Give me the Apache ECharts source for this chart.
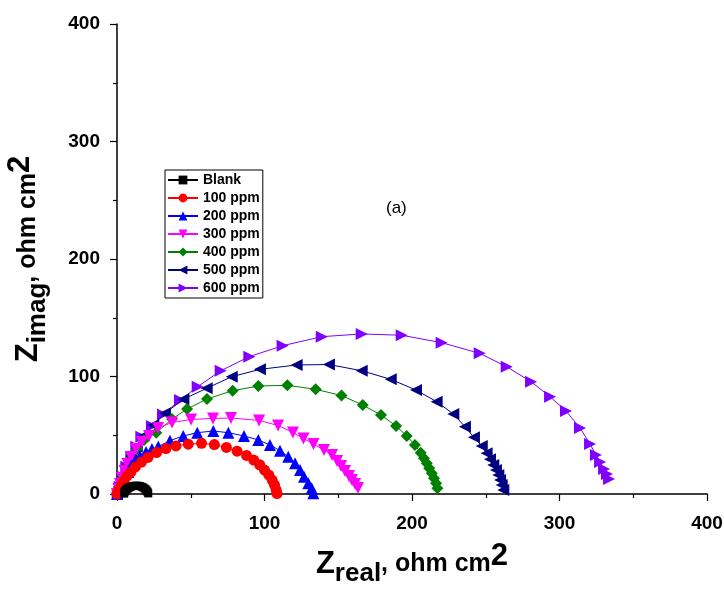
<!DOCTYPE html>
<html>
<head>
<meta charset="utf-8">
<script src="https://cdn.jsdelivr.net/npm/echarts@6/dist/echarts.min.js"></script>
<style>
  html, body { margin: 0; padding: 0; background: #fff; }
  #nyquist { width: 724px; height: 592px; }
</style>
</head>
<body>
<div id="nyquist"></div>
<script>
// Nyquist data, [Zreal, Zimag] in ohm cm2
var seriesNames = ['Blank', '100 ppm', '200 ppm', '300 ppm', '400 ppm', '500 ppm', '600 ppm'];
var axisTicks = [0, 100, 200, 300, 400];

var blank = [[4.8,0.3],[5.0,1.2],[5.3,2.1],[5.8,3.0],[6.4,3.8],[7.1,4.6],[7.9,5.3],[8.8,5.9],[9.8,6.4],[10.9,6.8],
  [12.0,7.0],[13.2,7.1],[14.4,7.0],[15.6,6.7],[16.7,6.2],[17.7,5.6],[18.6,4.8],[19.4,4.0],[20.0,3.1],[20.5,2.2],[20.9,1.3],[21.2,0.5]];
var ppm100 = [[0,0],[1.4,3.4],[3.1,7.7],[4.7,11.1],[6.8,15.3],[9.5,18.7],[12.5,23.0],[16.6,27.2],[21.0,31.1],[26.8,35.3],
  [33.2,38.7],[40.0,40.9],[48.3,42.4],[57.3,43.1],[66.0,42.1],[74.2,39.6],[81.4,36.4],[87.8,32.8],[92.7,28.9],[96.7,24.9],
  [100.0,20.4],[102.9,16.2],[105.2,11.9],[106.8,7.7],[107.9,3.4],[108.5,0.4]];
var ppm200 = [[0,0],[1.4,4.3],[2.9,8.5],[4.7,13.6],[7.5,18.7],[9.5,23.8],[12.2,28.1],[15.6,32.3],[19.7,35.7],[23.7,38.3],
  [28.0,40.4],[35.9,45.4],[44.9,49.4],[54.4,52.2],[65.3,53.6],[75.5,52.2],[86.1,49.4],[95.8,46.0],[103.7,41.7],[110.5,36.9],
  [116.1,31.7],[120.7,26.1],[124.1,20.4],[126.8,14.7],[129.7,9.1],[132.0,4.9],[133.1,0.6]];
var ppm300 = [[0,0],[1.0,4.3],[2.0,8.5],[3.4,13.6],[5.1,19.6],[7.1,25.5],[9.5,31.5],[12.9,38.3],[16.9,44.3],[21.7,49.4],
  [27.8,56.2],[37.3,60.9],[50.2,63.4],[65.1,64.3],[77.3,64.7],[96.3,62.6],[109.2,58.3],[119.3,52.3],[126.4,47.2],[133.2,42.6],
  [140.3,37.4],[145.8,33.2],[149.2,28.1],[151.9,23.8],[154.6,19.6],[157.3,15.3],[159.3,11.9],[161.4,8.5],[163.4,5.1]];
var ppm400 = [[0,0],[1.4,6.0],[3.4,13.6],[6.1,22.1],[9.5,29.8],[13.6,38.3],[18.3,46.0],[26.6,52.2],[37.3,63.8],[47.5,72.3],
  [61.0,80.9],[78.4,87.9],[95.8,91.9],[115.5,92.5],[134.7,89.1],[152.2,83.8],[166.6,75.7],[179.0,67.2],[189.2,57.9],[196.4,49.4],
  [202.0,41.7],[205.9,35.1],[208.1,30.4],[210.0,26.1],[211.7,21.9],[213.4,17.6],[214.9,13.4],[216.3,9.1],[217.2,4.9]];
var ppm500 = [[0,0],[1.4,6.0],[3.4,14.5],[6.1,23.8],[9.5,32.3],[13.4,40.3],[17.8,49.4],[24.6,58.7],[32.5,68.7],[45.0,80.6],
  [60.8,90.0],[77.8,99.8],[96.9,106.1],[121.8,109.8],[143.7,110.2],[165.9,104.9],[185.6,97.6],[202.7,88.5],[216.7,78.6],[228.0,68.1],
  [235.9,57.3],[242.0,48.3],[247.3,40.9],[250.6,34.6],[252.9,29.5],[255.1,24.7],[256.9,20.4],[258.5,16.2],[259.7,11.9],[260.8,7.7],[261.9,3.4]];
var ppm600 = [[0.5,0.5],[1.8,6.2],[4.1,14.7],[6.3,23.2],[9.7,31.7],[13.1,40.3],[16.5,48.8],[23.7,57.9],[31.2,67.7],[42.7,80.0],
  [54.7,91.3],[70.3,104.9],[89.7,116.9],[112.3,126.2],[138.8,133.9],[165.9,136.2],[193.0,135.1],[220.1,128.8],[245.9,119.7],[264.2,108.3],
  [280.7,95.6],[293.6,82.8],[304.4,70.6],[313.9,56.2],[320.7,42.6],[324.7,33.2],[327.5,27.2],[330.2,21.3],[332.2,17.0],[333.6,12.8]];

var seriesData = [blank, ppm100, ppm200, ppm300, ppm400, ppm500, ppm600];
var colors = ['#000000', '#ff0000', '#0000ff', '#ff00ff', '#008000', '#000080', '#8000ff'];
var symbols = ['rect', 'circle', 'triangle', 'triangle', 'diamond', 'triangle', 'triangle'];
var rotations = [0, 0, 0, 180, 0, 90, -90];
var sizes = [8, 11, 12, 12, 12, 12, 12];

var FONT = 'Liberation Sans, Arial, sans-serif';

var myChart = echarts.init(document.getElementById('nyquist'));

var series = [];
for (var i = 0; i < seriesNames.length; i++) {
  series.push({
    name: seriesNames[i],
    type: 'line',
    data: seriesData[i],
    symbol: symbols[i],
    symbolRotate: rotations[i],
    symbolSize: sizes[i],
    showAllSymbol: true,
    lineStyle: { color: colors[i], width: 1 },
    itemStyle: { color: colors[i] },
    emphasis: { disabled: true },
    z: 10 - i
  });
}

function axisCommon(labelMargin) {
  return {
    type: 'value',
    min: axisTicks[0],
    max: axisTicks[axisTicks.length - 1],
    interval: 100,
    splitLine: { show: false },
    axisLine: { show: true, onZero: false, lineStyle: { color: '#000', width: 1.5 } },
    axisTick: { show: true, inside: false, length: 7, lineStyle: { color: '#000', width: 1.2 } },
    minorTick: { show: true, splitNumber: 2, length: 4, lineStyle: { color: '#000', width: 1.2 } },
    axisLabel: { color: '#000', fontSize: 19, fontWeight: 'bold', fontFamily: FONT, margin: labelMargin },
    nameLocation: 'middle',
    nameTextStyle: {
      color: '#000',
      fontFamily: FONT,
      fontWeight: 'bold',
      rich: {
        z: { fontSize: 31, fontWeight: 'bold', color: '#000', fontFamily: FONT, lineHeight: 46, verticalAlign: 'middle' },
        sub: { fontSize: 26, fontWeight: 'bold', color: '#000', fontFamily: FONT, lineHeight: 46, verticalAlign: 'bottom' },
        n: { fontSize: 25, fontWeight: 'bold', color: '#000', fontFamily: FONT, lineHeight: 46, verticalAlign: 'middle' },
        sup: { fontSize: 31, fontWeight: 'bold', color: '#000', fontFamily: FONT, lineHeight: 46, verticalAlign: 'top' }
      }
    }
  };
}

var xAxis = axisCommon(20);
xAxis.name = '{z|Z}{sub|real}{n|, ohm cm}{sup|2}';
xAxis.nameGap = 47;
var yAxis = axisCommon(17);
yAxis.name = '{z|Z}{sub|imag}{n|, ohm cm}{sup|2}';
yAxis.nameGap = 66;
yAxis.nameRotate = 90;

var option = {
  animation: false,
  backgroundColor: '#fff',
  grid: { left: 117, right: 17, top: 24, bottom: 98, containLabel: false, outerBoundsMode: 'none' },
  xAxis: xAxis,
  yAxis: yAxis,
  legend: {
    data: seriesNames,
    orient: 'vertical',
    left: 165,
    top: 170,
    itemWidth: 30,
    itemHeight: 11,
    itemGap: 4,
    padding: [3, 3, 3, 2],
    borderColor: '#000',
    borderWidth: 1,
    backgroundColor: '#fff',
    textStyle: { color: '#000', fontSize: 14, lineHeight: 14, fontWeight: 'bold', fontFamily: FONT }
  },
  graphic: [{
    type: 'text',
    left: 386,
    top: 200,
    style: { text: '(a)', fontSize: 17, fill: '#000', fontFamily: FONT }
  }],
  series: series
};

myChart.setOption(option);
</script>
</body>
</html>
